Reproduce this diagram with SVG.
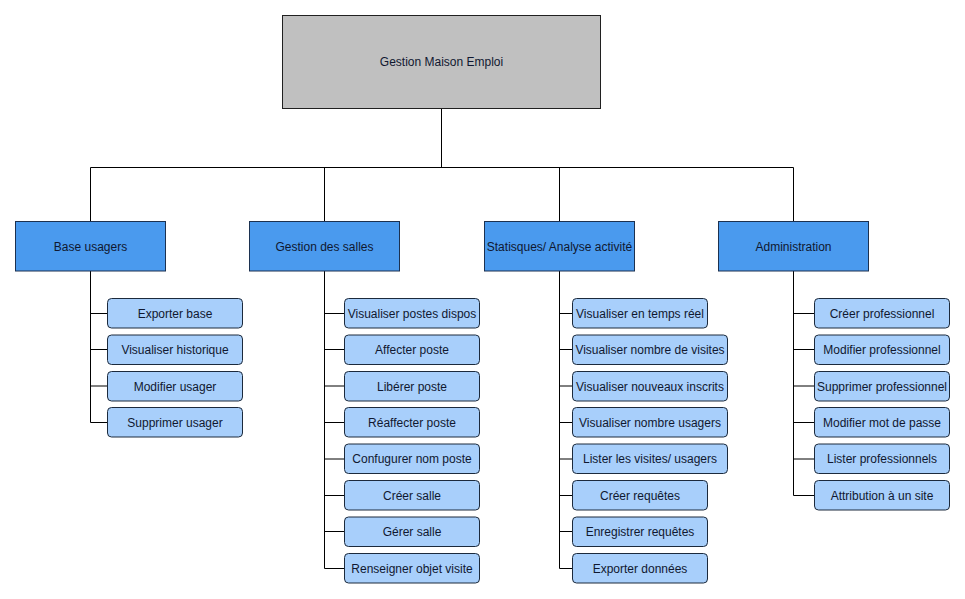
<svg xmlns="http://www.w3.org/2000/svg" width="965" height="599" viewBox="0 0 965 599">
<style>
text{font-family:"Liberation Sans",Arial,sans-serif;font-size:12px;text-anchor:middle;fill:#101830}
.root{fill:#c0c0c0;stroke:#202020;stroke-width:1}
.l1{fill:#4a9aee;stroke:#1c3150;stroke-width:1}
.l2{fill:#a8cffb;stroke:#1c2a3c;stroke-width:1}
.c{fill:none;stroke:#000;stroke-width:1}
</style>
<rect width="965" height="599" fill="#fff"/>
<g id="connectors" class="c">
<path d="M441.5 108.5V167.5M90.5 167.5H793.5M90.5 167.5V221.5M324.5 167.5V221.5M559.5 167.5V221.5M793.5 167.5V221.5"/>
<path d="M90.5 271V422.5M90.5 313.5H107.5M90.5 349.5H107.5M90.5 386H107.5M90.5 422.5H107.5"/>
<path d="M324.5 271V568.5M324.5 313.5H344.5M324.5 349.5H344.5M324.5 386H344.5M324.5 422.5H344.5M324.5 459H344.5M324.5 495.5H344.5M324.5 531.5H344.5M324.5 568.5H344.5"/>
<path d="M559.5 271V568.5M559.5 313.5H572.5M559.5 349.5H572.5M559.5 386H572.5M559.5 422.5H572.5M559.5 459H572.5M559.5 495.5H572.5M559.5 531.5H572.5M559.5 568.5H572.5"/>
<path d="M793.5 271V495.5M793.5 313.5H814.5M793.5 349.5H814.5M793.5 386H814.5M793.5 422.5H814.5M793.5 459H814.5M793.5 495.5H814.5"/>
</g>
<g id="root"><rect class="root" x="282.5" y="15.5" width="318" height="93"/><text x="441.5" y="66">Gestion Maison Emploi</text></g>
<g id="base-usagers"><rect class="l1" x="15.5" y="221.5" width="150" height="49.5"/><text x="90.5" y="250.5">Base usagers</text></g>
<g id="gestion-salles"><rect class="l1" x="249.5" y="221.5" width="150" height="49.5"/><text x="324.5" y="250.5">Gestion des salles</text></g>
<g id="statistiques"><rect class="l1" x="484.5" y="221.5" width="150" height="49.5"/><text x="559.5" y="250.5">Statisques/ Analyse activité</text></g>
<g id="administration"><rect class="l1" x="718.5" y="221.5" width="150" height="49.5"/><text x="793.5" y="250.5">Administration</text></g>

<g id="b1"><rect class="l2" x="107.5" y="298.5" width="135" height="29.5" rx="4"/><text x="175" y="317.5">Exporter base</text></g>
<g id="b2"><rect class="l2" x="107.5" y="335" width="135" height="29.5" rx="4"/><text x="175" y="354">Visualiser historique</text></g>
<g id="b3"><rect class="l2" x="107.5" y="371.5" width="135" height="29.5" rx="4"/><text x="175" y="390.5">Modifier usager</text></g>
<g id="b4"><rect class="l2" x="107.5" y="407.5" width="135" height="29.5" rx="4"/><text x="175" y="426.5">Supprimer usager</text></g>

<g id="s1"><rect class="l2" x="344.5" y="298.5" width="135" height="29.5" rx="4"/><text x="412" y="317.5">Visualiser postes dispos</text></g>
<g id="s2"><rect class="l2" x="344.5" y="335" width="135" height="29.5" rx="4"/><text x="412" y="354">Affecter poste</text></g>
<g id="s3"><rect class="l2" x="344.5" y="371.5" width="135" height="29.5" rx="4"/><text x="412" y="390.5">Libérer poste</text></g>
<g id="s4"><rect class="l2" x="344.5" y="407.5" width="135" height="29.5" rx="4"/><text x="412" y="426.5">Réaffecter poste</text></g>
<g id="s5"><rect class="l2" x="344.5" y="444" width="135" height="29.5" rx="4"/><text x="412" y="463">Confugurer nom poste</text></g>
<g id="s6"><rect class="l2" x="344.5" y="480.5" width="135" height="29.5" rx="4"/><text x="412" y="499.5">Créer salle</text></g>
<g id="s7"><rect class="l2" x="344.5" y="517" width="135" height="29.5" rx="4"/><text x="412" y="536">Gérer salle</text></g>
<g id="s8"><rect class="l2" x="344.5" y="553.5" width="135" height="29.5" rx="4"/><text x="412" y="572.5">Renseigner objet visite</text></g>

<g id="t1"><rect class="l2" x="572.5" y="298.5" width="135" height="29.5" rx="4"/><text x="640" y="317.5">Visualiser en temps réel</text></g>
<g id="t2"><rect class="l2" x="572.5" y="335" width="155" height="29.5" rx="4"/><text x="650" y="354">Visualiser nombre de visites</text></g>
<g id="t3"><rect class="l2" x="572.5" y="371.5" width="155" height="29.5" rx="4"/><text x="650" y="390.5">Visualiser nouveaux inscrits</text></g>
<g id="t4"><rect class="l2" x="572.5" y="407.5" width="155" height="29.5" rx="4"/><text x="650" y="426.5">Visualiser nombre usagers</text></g>
<g id="t5"><rect class="l2" x="572.5" y="444" width="155" height="29.5" rx="4"/><text x="650" y="463">Lister les visites/ usagers</text></g>
<g id="t6"><rect class="l2" x="572.5" y="480.5" width="135" height="29.5" rx="4"/><text x="640" y="499.5">Créer requêtes</text></g>
<g id="t7"><rect class="l2" x="572.5" y="517" width="135" height="29.5" rx="4"/><text x="640" y="536">Enregistrer requêtes</text></g>
<g id="t8"><rect class="l2" x="572.5" y="553.5" width="135" height="29.5" rx="4"/><text x="640" y="572.5">Exporter données</text></g>

<g id="a1"><rect class="l2" x="814.5" y="298.5" width="135" height="29.5" rx="4"/><text x="882" y="317.5">Créer professionnel</text></g>
<g id="a2"><rect class="l2" x="814.5" y="335" width="135" height="29.5" rx="4"/><text x="882" y="354">Modifier professionnel</text></g>
<g id="a3"><rect class="l2" x="814.5" y="371.5" width="135" height="29.5" rx="4"/><text x="882" y="390.5">Supprimer professionnel</text></g>
<g id="a4"><rect class="l2" x="814.5" y="407.5" width="135" height="29.5" rx="4"/><text x="882" y="426.5">Modifier mot de passe</text></g>
<g id="a5"><rect class="l2" x="814.5" y="444" width="135" height="29.5" rx="4"/><text x="882" y="463">Lister professionnels</text></g>
<g id="a6"><rect class="l2" x="814.5" y="480.5" width="135" height="29.5" rx="4"/><text x="882" y="499.5">Attribution à un site</text></g>
</svg>
